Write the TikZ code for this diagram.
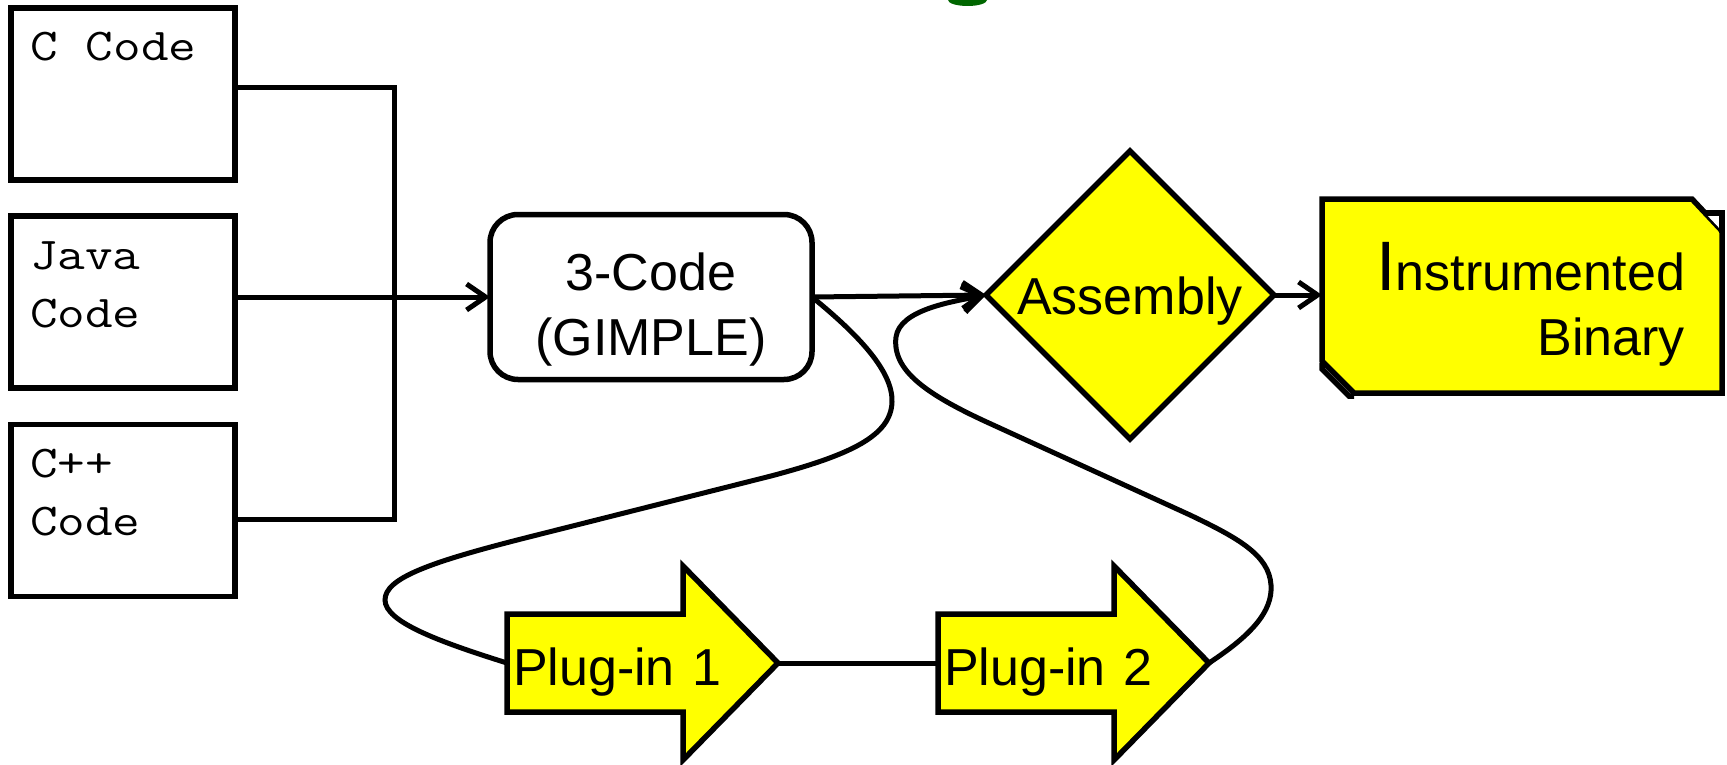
\documentclass[tikz,border=0pt]{standalone}
\usepackage{fontspec}
\setmainfont{Liberation Sans}
\setmonofont{Latin Modern Mono}[FakeStretch=1.18]
\usetikzlibrary{arrows.meta,shapes.geometric,backgrounds}
\definecolor{hiyellow}{RGB}{255,255,0}
\definecolor{titlegreen}{RGB}{0,102,0}
% one fixed-pitch cell of the typewriter face
\newcommand{\ttcell}{\hspace{0.62em}}

\begin{document}
\begin{tikzpicture}[x=1pt,y=-1pt,
  bigsans/.style={font=\fontsize{52}{65}\selectfont},
  shapeline/.style={line width=5.5pt, line join=miter},
  conn/.style={draw, line width=5pt},
  tip/.style={-{Straight Barb[length=19pt,width=26pt]}},
  srcbox/.style={draw, shapeline, fill=white, outer sep=0pt,
    minimum width=224pt, minimum height=172pt,
    inner xsep=19pt, inner ysep=0pt, text width=186pt, align=left,
    text height=50pt, text depth=116pt,
    font=\ttfamily\fontsize{45.5}{58}\selectfont},
  stagebox/.style={draw, shapeline, rounded corners=28pt, outer sep=0pt,
    minimum width=322pt, minimum height=165pt, inner sep=0pt,
    text width=300pt, align=center, text height=50pt, text depth=64pt, bigsans},
  decision/.style={diamond, aspect=1, draw, shapeline, fill=hiyellow, outer sep=0pt,
    minimum width=288pt, minimum height=288pt, inner sep=0pt,
    text height=38pt, text depth=0pt, bigsans},
  resultbox/.style={outer sep=0pt, minimum width=400pt, minimum height=194pt,
    inner xsep=37pt, inner ysep=0pt, text width=326pt, align=right,
    text height=60pt, text depth=72pt, bigsans},
  plugbox/.style={outer sep=0pt, minimum height=98pt, inner xsep=6pt, inner ysep=0pt,
    text width=259pt, align=left, text height=44pt, text depth=0pt, bigsans},
  arrowfill/.style={shapeline, draw, fill=hiyellow}
]
\useasboundingbox (0,0) rectangle (1727,765);

% descender of the heading above the figure
\begin{scope}
  \clip (0,0) rectangle (1727,765);
  \fill[titlegreen] (967.5,0) ellipse [x radius=19.5pt, y radius=6pt];
\end{scope}

% source languages
\node[srcbox] (c)    at (123,94)    {C\ttcell Code};
\node[srcbox] (java) at (123,302)   {Java\\Code};
\node[srcbox] (cpp)  at (123,510.5) {C++\\Code};

% intermediate representation, assembly, result
\node[stagebox] (gim) at (651,297) {3-Code\\(GIMPLE)};
\node[decision] (asm) at (1130,295) {Assembly};
\node[resultbox] (bin) at (1522,296)
  {{\fontsize{70}{65}\selectfont I}nstrumented\\Binary};

% plug-ins
\node[plugbox, anchor=west] (p1) at (507,663) {Plug-in 1};
\node[plugbox, anchor=west] (p2) at (938,663) {Plug-in 2};

\begin{scope}[on background layer]
  % snipped-corner result box
  \filldraw[shapeline, fill=hiyellow]
    (bin.north west) -- ([xshift=-30pt]bin.north east)
    -- ([yshift=-32pt]bin.north east) -- (bin.south east)
    -- ([xshift=32pt]bin.south west) -- ([yshift=32pt]bin.south west) -- cycle;
  % block arrows behind the plug-in labels
  \foreach \p in {p1,p2} {
    \filldraw[arrowfill]
      ([shift={(0,-49)}]\p.west) -- ([shift={(-95,-49)}]\p.east)
      -- ([shift={(-95,-97)}]\p.east) -- (\p.east)
      -- ([shift={(-95,97)}]\p.east) -- ([shift={(-95,49)}]\p.east)
      -- ([shift={(0,49)}]\p.west) -- cycle;
  }
\end{scope}

% raised corners of the result box
\fill[white] ([shift={(-17,14)}]bin.north east) -- ([shift={(0,14)}]bin.north east)
  -- ([shift={(0,32)}]bin.north east) -- cycle;
\draw[shapeline] ([shift={(-17,14)}]bin.north east) -- ([shift={(0,14)}]bin.north east)
  -- ([shift={(0,34)}]bin.north east);
\draw[shapeline] ([shift={(0,-30)}]bin.south west) -- ([shift={(0,-24)}]bin.south west)
  -- ([shift={(27,3)}]bin.south west) -- ([shift={(32,3)}]bin.south west);

% source bus
\coordinate (busTop) at (394,88);
\coordinate (busBot) at (394,519);
\draw[conn] (c.east |- busTop) -- (busTop) -- (busBot) -- (cpp.east |- busBot);
\draw[conn, tip] (java.east |- gim.west) -- (gim.west);

% main flow
\draw[conn, tip] (gim.east) -- (asm.west);
\draw[conn, tip] (asm.east) -- (asm.east -| bin.west);

% detour through the plug-ins
\draw[conn] (gim.east) .. controls (860,336) and (893,372) .. (892,402)
  .. controls (891,436) and (850,455) .. (771,476)
  -- (529,537)
  .. controls (430,562) and (385,578) .. (385,600)
  .. controls (385,622) and (440,642) .. (p1.west);
\draw[conn] (p1.east) -- (p2.west);
\draw[conn, tip] (p2.east) .. controls (1250,636) and (1273,612) .. (1271,585)
  .. controls (1269,555) and (1238,538) .. (1190,515)
  -- (991,424)
  .. controls (925,394) and (892,370) .. (896,337)
  .. controls (900,310) and (950,302) .. (asm.west);
\end{tikzpicture}
\end{document}
